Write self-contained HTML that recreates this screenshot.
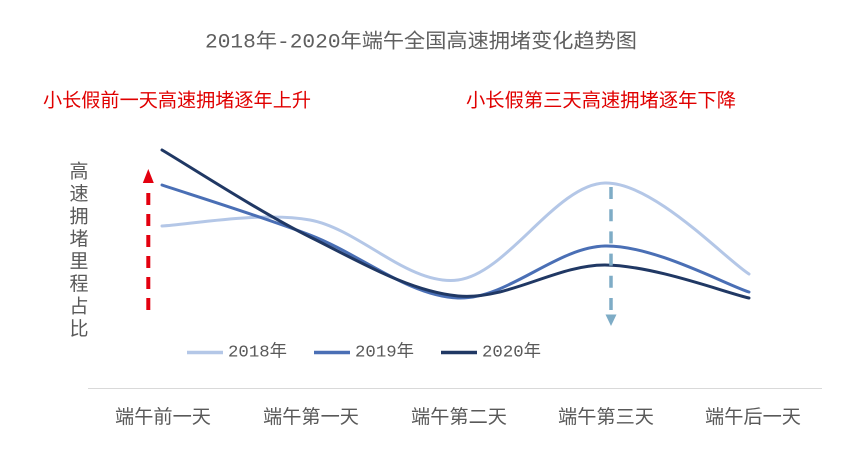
<!DOCTYPE html>
<html>
<head>
<meta charset="utf-8">
<style>
  html,body{margin:0;padding:0;background:#fff;}
  svg{display:block;}
  .cjk{font-family:"Liberation Sans","Noto Sans CJK SC",sans-serif;}
  .mono{font-family:"Liberation Mono","Noto Sans CJK SC",monospace;}
</style>
</head>
<body>
<svg width="860" height="470" viewBox="0 0 860 470" xmlns="http://www.w3.org/2000/svg">
  <rect width="860" height="470" fill="#fff"/>

  <!-- Title -->
  <text class="mono" x="205" y="43" font-size="20" fill="#5f5f5f" dominant-baseline="central" textLength="432" lengthAdjust="spacingAndGlyphs">2018年-2020年端午全国高速拥堵变化趋势图</text>

  <!-- Red annotations -->
  <text class="cjk" x="43" y="101" font-size="19" fill="#E00000" dominant-baseline="central" textLength="268" lengthAdjust="spacingAndGlyphs">小长假前一天高速拥堵逐年上升</text>
  <text class="cjk" x="466" y="101" font-size="19" fill="#E00000" dominant-baseline="central" textLength="270" lengthAdjust="spacingAndGlyphs">小长假第三天高速拥堵逐年下降</text>

  <!-- Y axis label (vertical) -->
  <g class="cjk" font-size="19" fill="#595959" text-anchor="middle" dominant-baseline="central">
    <text x="79" y="172">高</text>
    <text x="79" y="194.5">速</text>
    <text x="79" y="217">拥</text>
    <text x="79" y="239.5">堵</text>
    <text x="79" y="262">里</text>
    <text x="79" y="284.5">程</text>
    <text x="79" y="307">占</text>
    <text x="79" y="329.5">比</text>
  </g>

  <!-- Red dashed up arrow -->
  <line x1="148.3" y1="193" x2="148.3" y2="311" stroke="#E3000F" stroke-width="4" stroke-dasharray="12 9"/>
  <polygon points="148.3,169 142.8,183 153.8,183" fill="#E3000F"/>

  <!-- Series -->
  <path d="M162,226 C186.7,225 260.7,211 310,220 C359.3,229 408.8,286.2 458,280 C507.2,273.8 556.5,184 605,183 C653.5,182 725,258.8 749,274"
        fill="none" stroke="#B4C7E7" stroke-width="3" stroke-linecap="round"/>
  <path d="M162,185 C186.7,193.3 260.7,216.2 310,235 C359.3,253.8 408.8,296.2 458,298 C507.2,299.8 556.5,247 605,246 C653.5,245 725,284.3 749,292"
        fill="none" stroke="#4A6FB5" stroke-width="3" stroke-linecap="round"/>
  <path d="M162,150 C186.7,164.5 260.7,212.7 310,237 C359.3,261.3 408.8,291.3 458,296 C507.2,300.7 556.5,264.7 605,265 C653.5,265.3 725,292.5 749,298"
        fill="none" stroke="#203864" stroke-width="3" stroke-linecap="round"/>

  <!-- Blue dashed down arrow -->
  <line x1="611" y1="187" x2="611" y2="310" stroke="#7EACC6" stroke-width="3.5" stroke-dasharray="12 10.2"/>
  <polygon points="605.5,314.5 616.5,314.5 611,326" fill="#7EACC6"/>

  <!-- Legend -->
  <line x1="187" y1="352.5" x2="223" y2="352.5" stroke="#B4C7E7" stroke-width="3.5"/>
  <text class="mono" x="228" y="353" font-size="17" fill="#595959" dominant-baseline="central" textLength="59" lengthAdjust="spacingAndGlyphs">2018年</text>
  <line x1="314" y1="352.5" x2="350" y2="352.5" stroke="#4A6FB5" stroke-width="3.5"/>
  <text class="mono" x="355" y="353" font-size="17" fill="#595959" dominant-baseline="central" textLength="59" lengthAdjust="spacingAndGlyphs">2019年</text>
  <line x1="441" y1="352.5" x2="477" y2="352.5" stroke="#203864" stroke-width="3.5"/>
  <text class="mono" x="482" y="353" font-size="17" fill="#595959" dominant-baseline="central" textLength="59" lengthAdjust="spacingAndGlyphs">2020年</text>

  <!-- Axis line -->
  <line x1="88" y1="388.5" x2="822" y2="388.5" stroke="#D9D9D9" stroke-width="1"/>

  <!-- Category labels -->
  <g class="cjk" font-size="19" fill="#595959" dominant-baseline="central">
    <text x="115" y="417.5" textLength="96" lengthAdjust="spacingAndGlyphs">端午前一天</text>
    <text x="263" y="417.5" textLength="96" lengthAdjust="spacingAndGlyphs">端午第一天</text>
    <text x="411" y="417.5" textLength="96" lengthAdjust="spacingAndGlyphs">端午第二天</text>
    <text x="558" y="417.5" textLength="96" lengthAdjust="spacingAndGlyphs">端午第三天</text>
    <text x="705" y="417.5" textLength="96" lengthAdjust="spacingAndGlyphs">端午后一天</text>
  </g>
</svg>
</body>
</html>
